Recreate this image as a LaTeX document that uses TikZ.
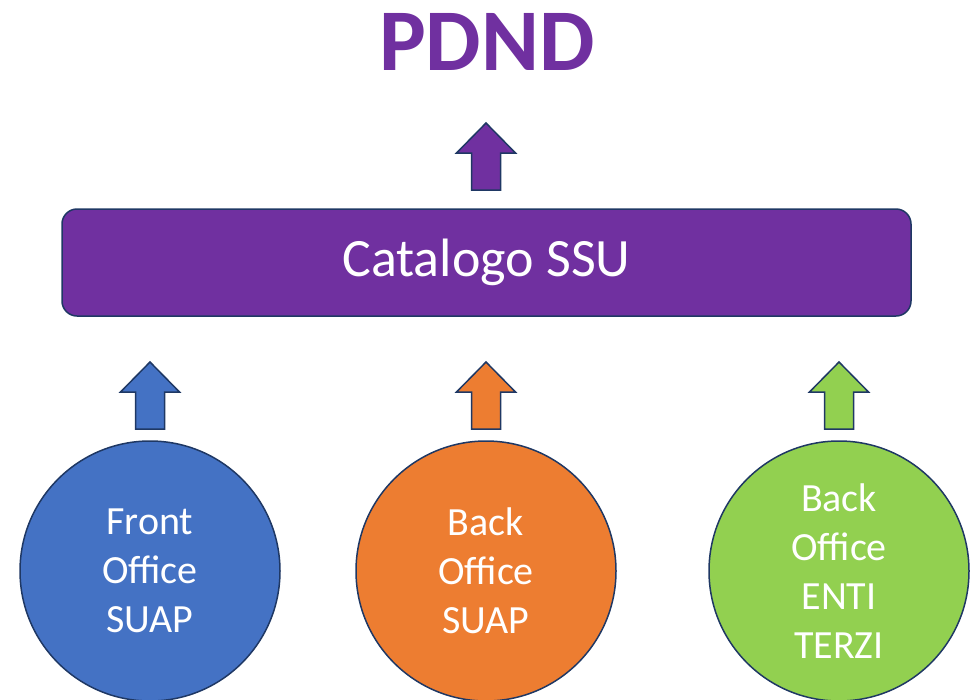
\documentclass[tikz,border=0pt]{standalone}
\usepackage{fontspec}
\setmainfont{Carlito}
\definecolor{pviolet}{HTML}{7030A0}
\definecolor{pblue}{HTML}{4472C4}
\definecolor{porange}{HTML}{ED7D31}
\definecolor{pgreen}{HTML}{92D050}
\definecolor{pnavy}{HTML}{1F3864}
\tikzset{
  circnode/.style={circle, draw=pnavy, line width=1.5pt, minimum size=260pt, inner sep=0pt,
    text=white, align=center, font=\fontsize{40}{49}\selectfont},
  blockarrow/.style={draw=pnavy, line width=1.5pt, line join=miter},
}
\newcommand{\uparr}[4]{% x, tip y, bottom y, color
  \fill[#4] (#1,#2) -- ++(29.5,30) -- ++(-15,0) |- (#1-14.5,#3) -- ++(0,-37) -- ++(-15,0) -- cycle;
  \draw[blockarrow] (#1,#2) -- ++(29.5,30) -- ++(-15,0) |- (#1-14.5,#3) -- ++(0,-37) -- ++(-15,0) -- cycle;
}
\begin{document}
\begin{tikzpicture}[x=1pt,y=-1pt]
\useasboundingbox (0,0) rectangle (977,699);
\node[anchor=base, text=pviolet, font=\fontsize{88}{100}\selectfont\bfseries, inner sep=0pt] (pdnd) at (487,70) {PDND};
\node[draw=pnavy, line width=1.5pt, fill=pviolet, rounded corners=15pt, minimum width=849pt, minimum height=107pt,
  text=white, font=\fontsize{54}{60}\selectfont, inner sep=0pt] (cat) at (486.5,262.5) {Catalogo SSU};
\node[circnode, fill=pblue] (fo) at (150,571) {Front\\Office\\SUAP};
\node[circnode, fill=porange] (bo) at (486,571) {Back\\Office\\SUAP};
\node[circnode, fill=pgreen] (bt) at (839,571) {Back\\Office\\ENTI\\TERZI};
\uparr{486}{123}{190}{pviolet}
\uparr{150}{362}{429}{pblue}
\uparr{486}{362}{429}{porange}
\uparr{839}{362}{429}{pgreen}
\end{tikzpicture}
\end{document}
